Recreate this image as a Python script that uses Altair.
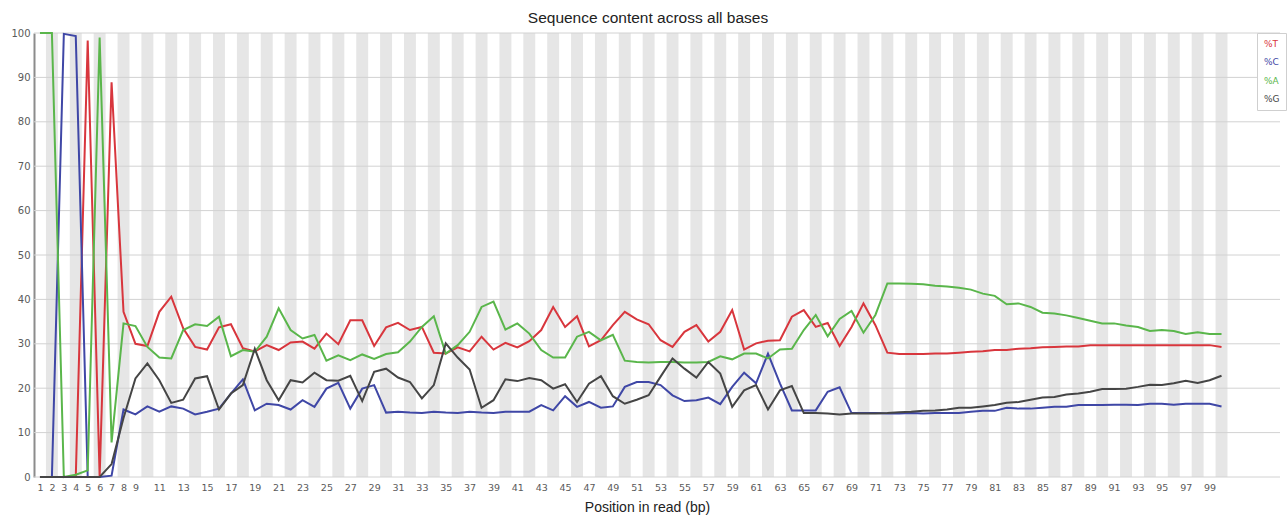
import altair as alt
import pandas as pd

# Read positions 1..100 and per-base composition (%)
positions = list(range(1, 101))

pct_t = [
    0, 0, 0, 0, 98.3, 0, 88.9, 37.2,
    30.0, 29.5, 37.2, 40.6, 33.5, 29.3, 28.7, 33.7, 34.4, 29.0, 28.3, 29.7,
    28.6, 30.3, 30.5, 28.9, 32.3, 29.9, 35.3, 35.3, 29.5, 33.7,
    34.7, 33.1, 33.8, 28.0, 27.8, 29.2, 28.3, 31.6, 28.7, 30.2,
    29.2, 30.6, 33.1, 38.3, 33.8, 36.2, 29.4, 30.8, 34.2, 37.2,
    35.5, 34.4, 30.8, 29.3, 32.7, 34.2, 30.5, 32.7, 37.6, 28.7,
    30.1, 30.7, 30.8, 36.1, 37.6, 33.8, 34.7, 29.5, 33.8, 39.1,
    34.2, 28.0, 27.7, 27.7, 27.7, 27.8, 27.8, 28.0, 28.2, 28.3,
    28.6, 28.6, 28.9, 29.0, 29.2, 29.3, 29.4, 29.4, 29.7, 29.7,
    29.7, 29.7, 29.7, 29.7, 29.7, 29.7, 29.7, 29.7, 29.7, 29.3,
]
pct_c = [
    0, 0, 99.8, 99.3, 0, 0, 0.3, 15.2,
    14.1, 15.9, 14.7, 15.9, 15.4, 14.1, 14.7, 15.4, 18.8, 22.0, 15.0, 16.5,
    16.2, 15.2, 17.3, 15.8, 19.9, 21.2, 15.4, 19.9, 20.7, 14.5,
    14.7, 14.5, 14.4, 14.7, 14.5, 14.4, 14.7, 14.5, 14.4, 14.7,
    14.7, 14.7, 16.2, 15.0, 18.2, 15.8, 16.9, 15.6, 15.9, 20.3,
    21.4, 21.4, 20.7, 18.4, 17.1, 17.3, 17.9, 16.4, 20.3, 23.5,
    21.1, 27.8, 21.1, 15.0, 15.0, 15.0, 19.2, 20.2, 14.4, 14.4,
    14.4, 14.3, 14.3, 14.4, 14.3, 14.4, 14.4, 14.4, 14.7, 14.9,
    14.9, 15.6, 15.4, 15.4, 15.6, 15.8, 15.8, 16.2, 16.2, 16.2,
    16.3, 16.3, 16.2, 16.5, 16.5, 16.3, 16.5, 16.5, 16.5, 15.9,
]
pct_a = [
    100, 100, 0, 0.5, 1.5, 99.0, 7.8, 34.6,
    34.0, 29.3, 26.9, 26.7, 33.1, 34.4, 34.0, 36.1, 27.2, 28.6, 28.2, 31.6,
    38.0, 33.1, 31.2, 32.0, 26.2, 27.4, 26.3, 27.6, 26.6, 27.7,
    28.1, 30.5, 33.8, 36.2, 27.8, 29.7, 32.7, 38.3, 39.5, 33.2,
    34.6, 32.3, 28.6, 26.9, 26.9, 31.6, 32.7, 30.8, 32.0, 26.2,
    25.9, 25.8, 25.9, 25.9, 25.8, 25.8, 25.9, 27.2, 26.5, 27.8,
    27.8, 26.7, 28.7, 28.9, 33.1, 36.5, 31.7, 35.6, 37.4, 32.5,
    36.5, 43.6, 43.6, 43.5, 43.4, 43.1, 42.9, 42.6, 42.2, 41.3,
    40.8, 38.9, 39.1, 38.3, 37.0, 36.8, 36.4, 35.8, 35.2, 34.6,
    34.6, 34.1, 33.8, 32.9, 33.1, 32.9, 32.2, 32.6, 32.2, 32.2,
]
pct_g = [
    0, 0, 0, 0, 0, 0, 2.9, 13.3,
    22.2, 25.6, 21.8, 16.7, 17.4, 22.2, 22.7, 15.2, 18.8, 20.7, 28.9, 21.8,
    17.3, 21.8, 21.3, 23.5, 21.8, 21.7, 22.8, 17.1, 23.7, 24.4,
    22.4, 21.4, 17.7, 20.7, 30.1, 26.9, 24.2, 15.6, 17.3, 22.0,
    21.6, 22.3, 21.8, 19.9, 20.9, 16.9, 21.0, 22.7, 18.2, 16.5,
    17.4, 18.4, 22.6, 26.7, 24.4, 22.4, 25.9, 23.3, 15.8, 19.5,
    20.7, 15.2, 19.5, 20.5, 14.4, 14.4, 14.3, 14.1, 14.3, 14.3,
    14.3, 14.4, 14.6, 14.7, 14.9, 15.0, 15.2, 15.6, 15.6, 15.9,
    16.2, 16.7, 16.9, 17.4, 17.9, 18.0, 18.6, 18.8, 19.2, 19.8,
    19.8, 19.9, 20.3, 20.8, 20.7, 21.1, 21.7, 21.2, 21.8, 22.8,
]

bases = ["%T", "%C", "%A", "%G"]
base_colors = ["#d8363d", "#3f47a6", "#5ab64b", "#454545"]

x_tick_values = list(range(1, 10)) + list(range(11, 100, 2))
y_tick_values = list(range(0, 101, 10))

# Long-form table for the four composition lines
rows = []
for base, series in zip(bases, [pct_t, pct_c, pct_a, pct_g]):
    for p, v in zip(positions, series):
        rows.append({"position": p, "base": base, "percent": v})
lines_df = pd.DataFrame(rows)

# Alternating shaded columns behind even read positions
even_positions = [p for p in positions if p % 2 == 0]
bands_df = pd.DataFrame({
    "start": [p - 0.5 for p in even_positions],
    "end": [p + 0.5 for p in even_positions],
    "lo": [0] * len(even_positions),
    "hi": [100] * len(even_positions),
})
grid_df = pd.DataFrame({"level": y_tick_values})

x_scale = alt.Scale(domain=[0.5, 104.9], nice=False, zero=False)
y_scale = alt.Scale(domain=[0, 100], nice=False)

label_color_expr = (
    "datum.value === '%T' ? '#d8363d' : "
    "datum.value === '%C' ? '#3f47a6' : "
    "datum.value === '%A' ? '#5ab64b' : '#454545'"
)

x_axis = alt.Axis(
    values=x_tick_values,
    labelFontSize=9.5,
    labelFont="DejaVu Sans",
    labelColor="#5a5a5a",
    labelFlush=False,
    labelOverlap=False,
    labelPadding=5,
    ticks=False,
    domain=False,
    grid=False,
    title="Position in read (bp)",
    titleFont="Liberation Sans",
    titleFontSize=14,
    titleFontWeight="normal",
    titleColor="#222222",
    titleX=613,
    titleY=34,
    titleBaseline="alphabetic",
)
y_axis = alt.Axis(
    values=y_tick_values,
    labelFontSize=10,
    labelFont="DejaVu Sans",
    labelColor="#5a5a5a",
    labelPadding=4,
    ticks=False,
    domain=True,
    domainColor="#8c8c8c",
    domainWidth=2,
    grid=False,
    title=None,
)

bands = alt.Chart(bands_df).mark_rect(color="#e6e6e6").encode(
    x=alt.X("start:Q", scale=x_scale, axis=x_axis),
    x2="end:Q",
    y=alt.Y("lo:Q", scale=y_scale, axis=y_axis),
    y2="hi:Q",
)

grid = alt.Chart(grid_df).mark_rule(color="#d2d2d2", strokeWidth=1).encode(
    y=alt.Y("level:Q", scale=y_scale, axis=y_axis),
)

lines = alt.Chart(lines_df).mark_line(strokeWidth=2).encode(
    x=alt.X("position:Q", scale=x_scale, axis=x_axis),
    y=alt.Y("percent:Q", scale=y_scale, axis=y_axis),
    color=alt.Color(
        "base:N",
        scale=alt.Scale(domain=bases, range=base_colors),
        legend=alt.Legend(
            title=None,
            orient="none",
            legendX=1223,
            legendY=0,
            symbolSize=0,
            symbolStrokeWidth=0,
            symbolOpacity=0,
            labelOffset=alt.ExprRef("-8"),
            labelFont="DejaVu Sans",
            labelFontSize=9,
            labelColor=alt.ExprRef(label_color_expr),
            rowPadding=8.5,
            padding=6,
            fillColor="white",
            strokeColor="#cfcfcf",
        ),
    ),
)

chart = (
    alt.layer(bands, grid, lines)
    .properties(
        width=1246,
        height=444,
        autosize="none",
        padding={"left": 34, "top": 33, "right": 8, "bottom": 40},
        title=alt.TitleParams(
            "Sequence content across all bases",
            font="Liberation Sans",
            fontSize=15.5,
            fontWeight="normal",
            color="#222222",
            offset=2,
            dx=-9,
        ),
    )
    .configure_view(strokeWidth=0)
)

chart.save("out.html", embed_options={"renderer": "svg", "actions": False})
